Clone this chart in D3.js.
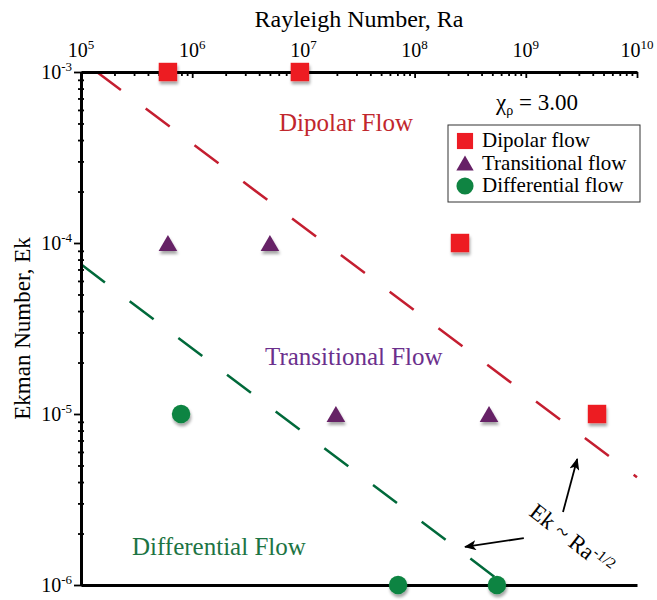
<!DOCTYPE html>
<html>
<head>
<meta charset="utf-8">
<script src="https://cdn.jsdelivr.net/npm/d3@7"></script>
<style>
  body { margin: 0; background: #fff; }
  text { font-family: "Liberation Serif", "Times New Roman", serif; }
</style>
</head>
<body>
<div id="chart"></div>
<script>
// regime diagram, Ek vs Ra (both log)
const raTicks = [1e5, 1e6, 1e7, 1e8, 1e9, 1e10];
const raExp = ["5", "6", "7", "8", "9", "10"];
const ekTicks = [1e-3, 1e-4, 1e-5, 1e-6];
const ekExp = ["-3", "-4", "-5", "-6"];

// points  [Ra, Ek]
const dipolar = [[6.05e5, 1e-3], [9.3e6, 1e-3], [2.56e8, 1e-4], [4.37e9, 1e-5]];
const transitional = [[6.05e5, 1e-4], [5.0e6, 1e-4], [1.96e7, 1e-5], [4.67e8, 1e-5]];
const differential = [[7.94e5, 1e-5], [7.1e7, 1e-6], [5.5e8, 1e-6]];

// Ek ~ Ra^-1/2 boundary lines (end points)
const upperLine = [[1.39e5, 1e-3], [1e10, 4.27e-6]];
const lowerLine = [[1e5, 7.5e-5], [5.6e8, 1.08e-6]];

// annotation arrows [from, to]
const arrows = [
  [[2.16e9, 2.67e-6], [2.9e9, 5.46e-6]],
  [[9.6e8, 1.88e-6], [2.84e8, 1.67e-6]]
];

const width = 657, height = 600;
const margin = {top: 72, right: 20, bottom: 15, left: 81};

const red = "#ed1c24", purple = "#662066", green = "#0f8442";

const svg = d3.select("#chart")
  .append("svg")
  .attr("width", width)
  .attr("height", height);

const defs = svg.append("defs");
const shadow = defs.append("filter").attr("id", "shadow")
  .attr("x", "-50%").attr("y", "-50%").attr("width", "200%").attr("height", "200%");
shadow.append("feDropShadow")
  .attr("dx", 1).attr("dy", 3).attr("stdDeviation", 1.8)
  .attr("flood-color", "#000").attr("flood-opacity", 0.35);

defs.append("marker")
  .attr("id", "arrowhead")
  .attr("viewBox", "0 0 12 10")
  .attr("refX", 11).attr("refY", 5)
  .attr("markerWidth", 12).attr("markerHeight", 10)
  .attr("markerUnits", "userSpaceOnUse")
  .attr("orient", "auto")
  .append("path")
  .attr("d", "M0,0 L12,5 L0,10 L3,5 Z")
  .attr("fill", "#000");

const x = d3.scaleLog()
  .domain([1e5, 1e10])
  .range([margin.left, width - margin.right]);
const y = d3.scaleLog()
  .domain([1e-3, 1e-6])
  .range([margin.top, height - margin.bottom]);

// boundary lines
const line = d3.line().x(d => x(d[0])).y(d => y(d[1]));
svg.append("path")
  .attr("d", line(upperLine))
  .attr("fill", "none")
  .attr("stroke", "#c41e30")
  .attr("stroke-width", 2.5)
  .attr("stroke-dasharray", "30,31");
svg.append("path")
  .attr("d", line(lowerLine))
  .attr("fill", "none")
  .attr("stroke", "#00693a")
  .attr("stroke-width", 2.5)
  .attr("stroke-dasharray", "30,31");

// axes
const x0 = x.range()[0], x1 = x.range()[1];
const y0 = y.range()[0], y1 = y.range()[1];

// top axis
const topAxis = svg.append("g")
  .attr("transform", `translate(0,${y0})`)
  .call(d3.axisTop(x).tickValues(x.ticks()).tickSize(-4).tickSizeOuter(0).tickFormat(""));
topAxis.selectAll(".tick line").attr("stroke-width", 1.8)
  .filter(d => raTicks.includes(d)).attr("y2", 6);
topAxis.select(".domain").attr("stroke-width", 3);

topAxis.selectAll(".lbl")
  .data(raTicks)
  .join("text")
  .attr("x", d => x(d))
  .attr("y", -15)
  .attr("text-anchor", "middle")
  .attr("font-size", 20)
  .attr("fill", "#000")
  .each(function(d, i) {
    const t = d3.select(this);
    t.append("tspan").text("10");
    t.append("tspan").attr("font-size", 13).attr("dy", -8).text(raExp[i]);
  });

// left axis
const leftAxis = svg.append("g")
  .attr("transform", `translate(${x0},0)`)
  .call(d3.axisLeft(y).tickValues(y.ticks()).tickSize(3).tickSizeOuter(0).tickFormat(""));
leftAxis.selectAll(".tick line").attr("stroke-width", 1.8).attr("x2", -3).attr("x1", 3);
leftAxis.selectAll(".tick line").filter(d => ekTicks.includes(d)).attr("x2", -7).attr("x1", 2);
leftAxis.select(".domain").attr("stroke-width", 3);

leftAxis.selectAll(".lbl")
  .data(ekTicks)
  .join("text")
  .attr("x", -9)
  .attr("y", d => y(d) + 7)
  .attr("text-anchor", "end")
  .attr("font-size", 20)
  .attr("fill", "#000")
  .each(function(d, i) {
    const t = d3.select(this);
    t.append("tspan").text("10");
    t.append("tspan").attr("font-size", 13).attr("dy", -8).text(ekExp[i]);
  });

// bottom line, no ticks
const bottomAxis = svg.append("g")
  .attr("transform", `translate(0,${y1})`)
  .call(d3.axisBottom(x).tickValues([]).tickSizeOuter(0));
bottomAxis.select(".domain").attr("stroke-width", 3);

// axis titles
svg.append("text")
  .attr("x", (x0 + x1) / 2)
  .attr("y", 27)
  .attr("text-anchor", "middle")
  .attr("font-size", 24)
  .text("Rayleigh Number, Ra");
svg.append("text")
  .attr("transform", `translate(30,${(y0 + y1) / 2}) rotate(-90)`)
  .attr("text-anchor", "middle")
  .attr("font-size", 23)
  .text("Ekman Number, Ek");

// regime labels
svg.append("text").attr("x", 279).attr("y", 131)
  .attr("font-size", 25).attr("fill", "#c1272d").text("Dipolar Flow");
svg.append("text").attr("x", 265).attr("y", 365)
  .attr("font-size", 25).attr("fill", "#6b2f8c").text("Transitional Flow");
svg.append("text").attr("x", 132).attr("y", 555)
  .attr("font-size", 25).attr("fill", "#1c7443").text("Differential Flow");

// markers
const sq = d3.symbol().type(d3.symbolSquare).size(340);
const tri = d3.symbol().type(d3.symbolTriangle).size(150);
const circ = d3.symbol().type(d3.symbolCircle).size(270);
const triShift = Math.sqrt(150 / (3 * Math.sqrt(3))) / 2;

svg.append("g").selectAll("path")
  .data(dipolar)
  .join("path")
  .attr("d", sq)
  .attr("transform", d => `translate(${x(d[0])},${y(d[1])})`)
  .attr("fill", red)
  .attr("filter", "url(#shadow)");
svg.append("g").selectAll("path")
  .data(transitional)
  .join("path")
  .attr("d", tri)
  .attr("transform", d => `translate(${x(d[0])},${y(d[1]) + triShift})`)
  .attr("fill", purple)
  .attr("filter", "url(#shadow)");
svg.append("g").selectAll("path")
  .data(differential)
  .join("path")
  .attr("d", circ)
  .attr("transform", d => `translate(${x(d[0])},${y(d[1])})`)
  .attr("fill", green)
  .attr("filter", "url(#shadow)");

// chi label
const chi = svg.append("text").attr("x", 496).attr("y", 110).attr("font-size", 23);
chi.append("tspan").text("χ");
chi.append("tspan").attr("font-size", 14).attr("dy", 5).text("ρ");
chi.append("tspan").attr("dy", -5).text(" = 3.00");

// legend
const legendItems = ["Dipolar flow", "Transitional flow", "Differential flow"];
const legendShapes = [
  d3.symbol().type(d3.symbolSquare).size(260),
  d3.symbol().type(d3.symbolTriangle).size(130),
  d3.symbol().type(d3.symbolCircle).size(230)
];
const legendColors = [red, purple, green];
const lg = svg.append("g").attr("transform", "translate(448,125)");
lg.append("rect")
  .attr("width", 192).attr("height", 77)
  .attr("fill", "#fff").attr("stroke", "#333").attr("stroke-width", 1);
lg.selectAll("path")
  .data(legendItems)
  .join("path")
  .attr("d", (d, i) => legendShapes[i]())
  .attr("transform", (d, i) => `translate(17,${16 + i * 22.5 + (i === 1 ? 2 : 0)})`)
  .attr("fill", (d, i) => legendColors[i]);
lg.selectAll("text")
  .data(legendItems)
  .join("text")
  .attr("x", 34)
  .attr("y", (d, i) => 22 + i * 22.5)
  .attr("font-size", 21)
  .text(d => d);

// annotation
svg.append("g").selectAll("line")
  .data(arrows)
  .join("line")
  .attr("x1", d => x(d[0][0])).attr("y1", d => y(d[0][1]))
  .attr("x2", d => x(d[1][0])).attr("y2", d => y(d[1][1]))
  .attr("stroke", "#000")
  .attr("stroke-width", 1.8)
  .attr("marker-end", "url(#arrowhead)");

const note = svg.append("text")
  .attr("transform", `translate(${x(2.35e9)},${y(1.71e-6)}) rotate(38)`)
  .attr("text-anchor", "middle")
  .attr("font-size", 23);
note.append("tspan").text("Ek ~ Ra");
note.append("tspan").attr("font-size", 15).attr("dy", -8).text("-1/2");
</script>
</body>
</html>
